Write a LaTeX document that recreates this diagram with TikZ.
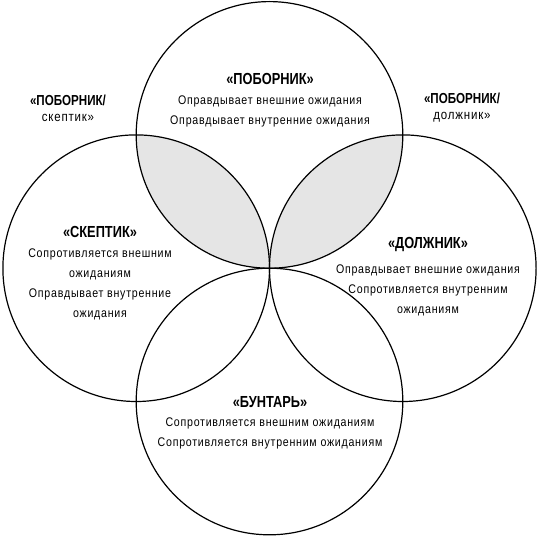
\documentclass[tikz,border=0pt]{standalone}
\usepackage{fontspec}
\setmainfont[FakeStretch=0.85,LetterSpace=6]{Liberation Sans}
\newfontfamily\ttlfont[FakeStretch=0.8]{Liberation Sans}
\begin{document}
\begin{tikzpicture}[x=1pt,y=-1pt,
  ring/.style={draw=black,line width=1.2pt},
  lens/.style={fill=black!10},
  ttl/.style={font=\ttlfont\fontsize{16}{18}\selectfont\bfseries,inner sep=0pt},
  sub/.style={font=\fontsize{13.5}{16}\selectfont,inner sep=0pt,align=center},
  body/.style={font=\fontsize{12.5}{20}\selectfont,inner sep=0pt,align=center}]
\useasboundingbox (0,0) rectangle (538,538);
\def\R{133.3}
\coordinate (T) at (269.5,134.9);
\coordinate (B) at (269.5,401.5);
\coordinate (L) at (136.2,268.2);
\coordinate (Rc) at (402.8,268.2);
% grey lenses
\begin{scope}
  \clip (T) circle (\R);
  \fill[lens] (L) circle (\R);
  \fill[lens] (Rc) circle (\R);
\end{scope}
\draw[ring] (T) circle (\R);
\draw[ring] (L) circle (\R);
\draw[ring] (Rc) circle (\R);
\draw[ring] (B) circle (\R);
% top
\node[ttl] (t1) at (270,79) {«ПОБОРНИК»};
\node[body] (t2) at (270,111) {Оправдывает внешние ожидания\\Оправдывает внутренние ожидания};
% corner labels
\node[sub] (c1) at (68,108) {{\ttlfont\fontsize{14.5}{16}\selectfont\bfseries«ПОБОРНИК/}\\скептик»};
\node[sub] (c2) at (462,108) {{\ttlfont\fontsize{14.5}{16}\selectfont\bfseries«ПОБОРНИК/}\\должник»};
% left
\node[ttl] (l1) at (100,232) {«СКЕПТИК»};
\node[body] (l2) at (100,284) {Сопротивляется внешним\\ожиданиям\\Оправдывает внутренние\\ожидания};
% right
\node[ttl] (r1) at (428,245) {«ДОЛЖНИК»};
\node[body] (r2) at (428,290) {Оправдывает внешние ожидания\\Сопротивляется внутренним\\ожиданиям};
% bottom
\node[ttl] (b1) at (270,402) {«БУНТАРЬ»};
\node[body] (b2) at (270,433) {Сопротивляется внешним ожиданиям\\Сопротивляется внутренним ожиданиям};
\end{tikzpicture}
\end{document}
